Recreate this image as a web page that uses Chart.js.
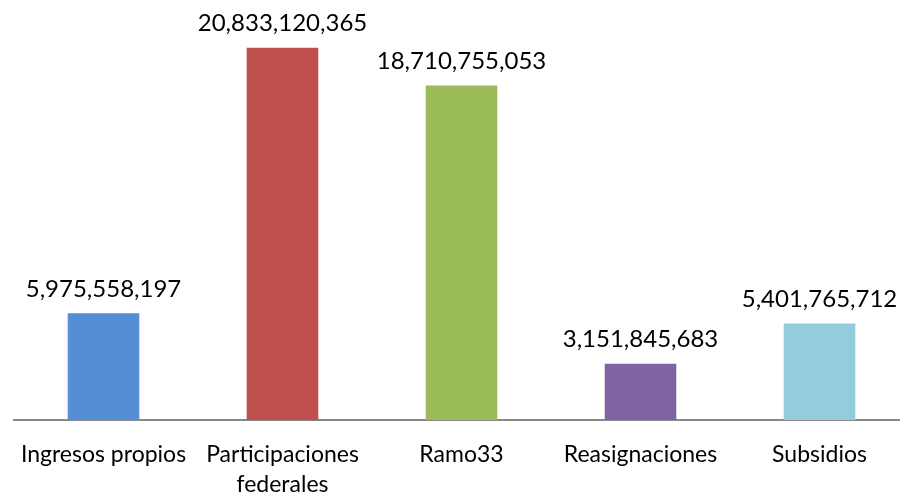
<!DOCTYPE html>
<html>
<head>
<meta charset="utf-8">
<script src="https://cdn.jsdelivr.net/npm/chart.js@4.4.0/dist/chart.umd.min.js"></script>
<style>
  html, body { margin: 0; padding: 0; background: #fff; overflow: hidden; }
  #wrap { width: 920px; height: 502px; }
</style>
</head>
<body>
<div id="wrap"><canvas id="chart"></canvas></div>
<script>
// Datos del gráfico
const categorias = ['Ingresos propios', ['Participaciones', 'federales'], 'Ramo33', 'Reasignaciones', 'Subsidios'];
const montos = [5975558197, 20833120365, 18710755053, 3151845683, 5401765712];
const colores = ['#558ED5', '#C0504D', '#9BBB59', '#8064A2', '#93CDDD'];

const fuente = 'Lato, "Open Sans", sans-serif';

// Etiquetas de valor encima de cada barra
const etiquetasValor = {
    id: 'etiquetasValor',
    afterDatasetsDraw(chart) {
        const ctx = chart.ctx;
        const meta = chart.getDatasetMeta(0);
        ctx.save();
        ctx.font = '24px ' + fuente;
        ctx.fillStyle = '#000';
        ctx.textAlign = 'center';
        ctx.textBaseline = 'bottom';
        meta.data.forEach((bar, i) => {
            ctx.fillText(montos[i].toLocaleString('en-US'), bar.x, bar.y - 12);
        });
        ctx.restore();
    }
};

new Chart(document.getElementById('chart'), {
    type: 'bar',
    data: {
        labels: categorias,
        datasets: [{
            data: montos,
            backgroundColor: colores,
            borderWidth: 0,
            barPercentage: 0.4,
            categoryPercentage: 1
        }]
    },
    options: {
        responsive: true,
        maintainAspectRatio: false,
        animation: false,
        layout: { padding: { left: 9, right: 11, top: 0, bottom: 0 } },
        plugins: {
            legend: { display: false },
            tooltip: { enabled: false }
        },
        scales: {
            y: {
                display: false,
                min: 0,
                max: 23500000000
            },
            x: {
                grid: { display: false, drawTicks: false },
                border: { color: '#888', width: 2 },
                afterFit(scale) { scale.height = 82; },
                ticks: {
                    color: '#000',
                    font: { family: fuente, size: 23, lineHeight: 1.3 },
                    padding: 20,
                    maxRotation: 0,
                    autoSkip: false
                }
            }
        }
    },
    plugins: [etiquetasValor]
});
</script>
</body>
</html>
